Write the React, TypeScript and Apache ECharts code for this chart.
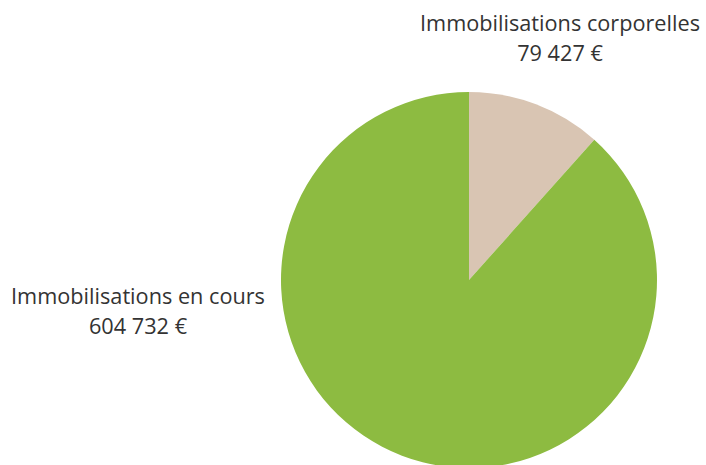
import React, { useEffect, useRef } from "react";
import * as echarts from "echarts";

const categories = ["Immobilisations corporelles", "Immobilisations en cours"];
const values = [79427, 604732];
const valueLabels = ["79 427 €", "604 732 €"];
const colors = ["#D9C5B3", "#8DBB41"];

export default function App() {
  const ref = useRef<HTMLDivElement>(null);
  useEffect(() => {
    document.body.style.margin = "0";
    const chart = echarts.init(ref.current!, null, { renderer: "svg" });
    const labelPos = [
      { x: 560, y: 37 },
      { x: 138, y: 310 },
    ];
    chart.setOption({
      animation: false,
      backgroundColor: "#ffffff",
      series: [
        {
          type: "pie",
          center: [469, 280],
          radius: 188,
          startAngle: 90,
          clockwise: true,
          data: categories.map((name, i) => ({
            name,
            value: values[i],
            itemStyle: { color: colors[i] },
          })),
          label: {
            show: true,
            position: "outside",
            formatter: (p: any) => `${p.name}\n${valueLabels[p.dataIndex]}`,
            fontFamily: "Open Sans",
            fontSize: 21.7,
            lineHeight: 30,
            color: "#333333",
            align: "center",
            overflow: "none",
            width: 400,
          },
          labelLine: { show: false },
          labelLayout: (params: any) => ({
            x: labelPos[params.dataIndex].x,
            y: labelPos[params.dataIndex].y,
            align: "center",
            verticalAlign: "middle",
          }),
          emphasis: { disabled: true },
        },
      ],
    });
    return () => chart.dispose();
  }, []);
  return <div ref={ref} style={{ width: 706, height: 465 }} />;
}
